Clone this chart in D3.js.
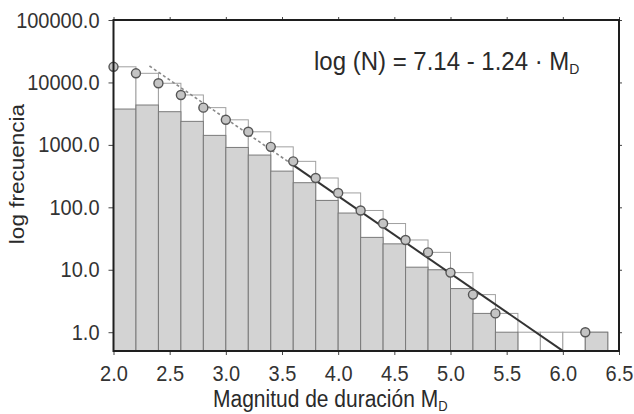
<!DOCTYPE html>
<html lang="es">
<head>
  <meta charset="UTF-8">
  <title>log frecuencia vs Magnitud de duración</title>
  <script src="https://d3js.org/d3.v7.min.js"></script>
  <style>
    body {
      margin: 0;
      background: white;
      font-family: 'Liberation Sans', Arial, sans-serif;
    }
    .tick text {
      font-size: 20px;
      fill: #333;
    }
    .tick line {
      stroke: #444;
    }
  </style>
</head>
<body>
  <svg width="634" height="414"></svg>

  <script>
    // bin start (magnitude), bins are 0.2 wide
    const binStart = [2.0, 2.2, 2.4, 2.6, 2.8, 3.0, 3.2, 3.4, 3.6, 3.8, 4.0,
                      4.2, 4.4, 4.6, 4.8, 5.0, 5.2, 5.4, 5.6, 5.8, 6.0, 6.2];
    // events per bin (gray bars)
    const freq = [3750, 4350, 3400, 2380, 1420, 910, 687, 380, 248, 129, 81,
                  33, 26, 11, 10, 5, 2, 1, 0, 0, 0, 1];
    // cumulative N >= M (white bars and circles)
    const cumul = [17800, 14000, 9700, 6300, 3950, 2520, 1620, 930, 545, 295, 170,
                   89, 55, 30, 19, 9, 4, 2, 1, 1, 1, 1];
    const binWidth = 0.2;

    // log(N) = a - b*M
    const fitA = 7.14, fitB = 1.24;
    const dottedFrom = 2.32, solidFrom = 3.6, solidTo = 6.0;

    const xTicks = [2.0, 2.5, 3.0, 3.5, 4.0, 4.5, 5.0, 5.5, 6.0, 6.5];
    const yTicks = [1, 10, 100, 1000, 10000, 100000];

    const svg = d3.select("svg");
    const plotL = 113.5, plotR = 619, plotT = 20, plotB = 351;

    const x = d3.scaleLinear().domain([2, 6.5]).range([plotL, plotR]);
    const y = d3.scaleLog().domain([0.5, 100000]).range([plotB, plotT]);

    const bins = binStart.map((m, i) => ({m: m, f: freq[i], c: cumul[i]}));

    // cumulative (white) bars
    svg.append("g").selectAll("rect")
      .data(bins.filter(d => d.c > 0))
      .enter().append("rect")
        .attr("x", d => x(d.m))
        .attr("width", d => x(d.m + binWidth) - x(d.m))
        .attr("y", d => y(d.c))
        .attr("height", d => plotB - y(d.c))
        .attr("fill", "white")
        .attr("stroke", "#a0a0a0")
        .attr("stroke-width", 1);

    // frequency (gray) bars
    svg.append("g").selectAll("rect")
      .data(bins.filter(d => d.f > 0))
      .enter().append("rect")
        .attr("x", d => x(d.m))
        .attr("width", d => x(d.m + binWidth) - x(d.m))
        .attr("y", d => y(d.f))
        .attr("height", d => plotB - y(d.f))
        .attr("fill", "#d3d3d3")
        .attr("stroke", "#7a7a7a")
        .attr("stroke-width", 1);

    // fit line
    const fit = m => Math.pow(10, fitA - fitB * m);
    const line = d3.line().x(d => x(d)).y(d => y(fit(d)));

    svg.append("path")
      .attr("d", line([dottedFrom, solidFrom]))
      .attr("fill", "none")
      .attr("stroke", "#8a8a8a")
      .attr("stroke-width", 1.6)
      .attr("stroke-dasharray", "3,2.5");

    svg.append("path")
      .attr("d", line([solidFrom, solidTo]))
      .attr("fill", "none")
      .attr("stroke", "#333")
      .attr("stroke-width", 2);

    // circles at cumulative values
    svg.append("g").selectAll("circle")
      .data(bins.filter(d => d.f > 0))
      .enter().append("circle")
        .attr("cx", d => x(d.m))
        .attr("cy", d => y(d.c))
        .attr("r", 4.5)
        .attr("fill", "#c4c4c4")
        .attr("stroke", "#555")
        .attr("stroke-width", 1.4);

    // stretch text a little vertically, like the original
    function stretch(sel) {
      sel.selectAll("text").each(function () {
        const t = d3.select(this);
        const ty = +t.attr("y") || 0;
        t.attr("y", 0).attr("transform", `translate(0,${ty}) scale(1,1.1)`);
      });
    }

    // axes
    const fmt = d => d.toFixed(1);

    svg.append("g")
      .attr("transform", `translate(${plotL},0)`)
      .call(d3.axisLeft(y).tickValues(yTicks).tickFormat(fmt).tickSize(5).tickPadding(9))
      .call(g => g.select(".domain").remove())
      .call(stretch);

    svg.append("g")
      .attr("transform", `translate(0,${plotB})`)
      .call(d3.axisBottom(x).tickValues(xTicks).tickFormat(fmt).tickSize(4).tickPadding(10))
      .call(g => g.select(".domain").remove())
      .call(stretch);

    svg.append("g")
      .attr("transform", `translate(0,${plotT})`)
      .call(d3.axisTop(x).tickValues(xTicks).tickFormat("").tickSize(3))
      .call(g => g.select(".domain").remove());

    svg.append("g")
      .attr("transform", `translate(${plotR},0)`)
      .call(d3.axisRight(y).tickValues(yTicks).tickFormat("").tickSize(3))
      .call(g => g.select(".domain").remove());

    // frame
    svg.append("rect")
      .attr("x", plotL)
      .attr("y", plotT)
      .attr("width", plotR - plotL)
      .attr("height", plotB - plotT)
      .attr("fill", "none")
      .attr("stroke", "#1e1e1e")
      .attr("stroke-width", 2);

    // axis titles
    const xTitle = svg.append("text")
      .attr("transform", `translate(213,407) scale(1,1.1)`)
      .style("font-size", "21px")
      .style("fill", "#2a2a2a");
    xTitle.append("tspan").text("Magnitud de duración M");
    xTitle.append("tspan").attr("dy", 4).style("font-size", "13px").text("D");

    svg.append("text")
      .attr("transform", `translate(24,174) rotate(-90) scale(1.1,1)`)
      .attr("text-anchor", "middle")
      .style("font-size", "20.5px")
      .style("fill", "#2a2a2a")
      .text("log frecuencia");

    // equation
    const eq = svg.append("text")
      .attr("transform", `translate(314,70) scale(1,1.1)`)
      .style("font-size", "24px")
      .style("fill", "#2a2a2a");
    eq.append("tspan").text("log (N) = 7.14 - 1.24 · M");
    eq.append("tspan").attr("dy", 4).style("font-size", "14px").text("D");
  </script>
</body>
</html>
